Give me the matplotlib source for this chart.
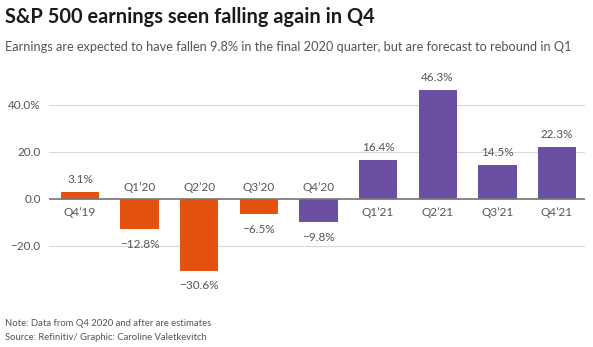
import matplotlib
matplotlib.use("Agg")
import matplotlib.pyplot as plt

quarters = ["Q4’19", "Q1’20", "Q2’20", "Q3’20", "Q4’20", "Q1’21", "Q2’21", "Q3’21", "Q4’21"]
growth = [3.1, -12.8, -30.6, -6.5, -9.8, 16.4, 46.3, 14.5, 22.3]
is_estimate = [False, False, False, False, True, True, True, True, True]

ORANGE = "#E3530F"
PURPLE = "#6A4FA2"
GREY = "#555555"

plt.rcParams["font.family"] = ["Lato", "DejaVu Sans"]

fig = plt.figure(figsize=(5.93, 3.47), dpi=100)
ax = fig.add_axes([49 / 593, 1 - 281 / 347, (585 - 49) / 593, (281 - 81.5) / 347])

x = list(range(len(quarters)))
colors = [PURPLE if e else ORANGE for e in is_estimate]
ax.bar(x, growth, width=0.645, color=colors, zorder=3)

ax.set_xlim(-0.52, 8.47)
ax.set_ylim(-35, 50)
ax.set_yticks([-20, 0, 20, 40])
ax.set_yticklabels(["\u221220.0", "0.0", "20.0", "40.0%"], color=GREY, fontsize=8.5)
ax.tick_params(axis="y", length=0, pad=6)
ax.set_xticks([])
ax.grid(axis="y", color="#d9d9d9", linewidth=0.8, zorder=0)
ax.axhline(0, color="#777777", linewidth=1.2, zorder=4)
for s in ax.spines.values():
    s.set_visible(False)

for xi, q, v in zip(x, quarters, growth):
    lab = f"{v:.1f}%".replace("-", "\u2212")
    if v >= 0:
        ax.annotate(lab, (xi, v), xytext=(0, 5), textcoords="offset points",
                    ha="center", va="bottom", fontsize=8.5, color=GREY)
        ax.annotate(q, (xi, 0), xytext=(0, -6), textcoords="offset points",
                    ha="center", va="top", fontsize=8.5, color=GREY)
    else:
        ax.annotate(lab, (xi, v), xytext=(0, -7), textcoords="offset points",
                    ha="center", va="top", fontsize=8.5, color=GREY)
        ax.annotate(q, (xi, 0), xytext=(0, 4), textcoords="offset points",
                    ha="center", va="bottom", fontsize=8.5, color=GREY)

fig.text(5 / 593, 1 - 17 / 347, "S&P 500 earnings seen falling again in Q4",
         fontsize=14.4, fontweight="bold", color="#1a1a1a", va="center", ha="left")
fig.text(5 / 593, 1 - 47 / 347,
         "Earnings are expected to have fallen 9.8% in the final 2020 quarter, but are forecast to rebound in Q1",
         fontsize=9.2, color=GREY, va="center", ha="left")
fig.text(5 / 593, 1 - 323 / 347, "Note: Data from Q4 2020 and after are estimates",
         fontsize=6.8, color=GREY, va="center", ha="left")
fig.text(5 / 593, 1 - 337 / 347, "Source: Refinitiv/ Graphic: Caroline Valetkevitch",
         fontsize=6.8, color=GREY, va="center", ha="left")

fig.savefig("out.png", dpi=100)
